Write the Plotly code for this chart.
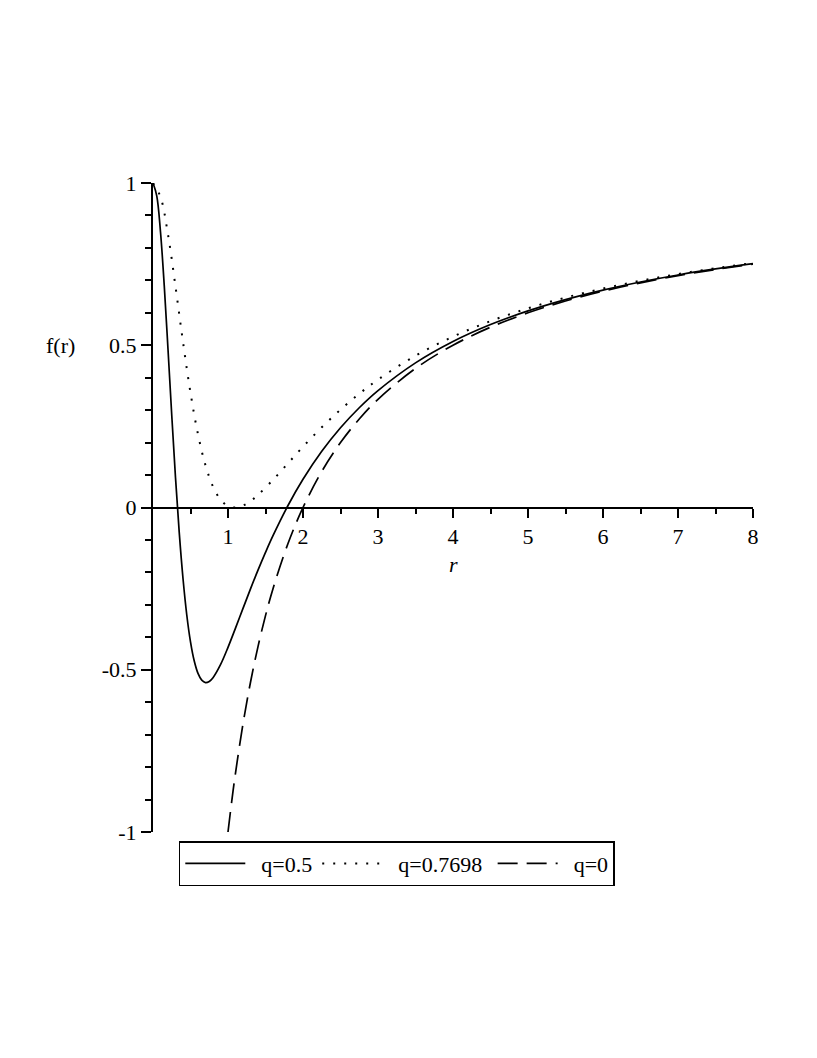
import plotly.graph_objects as go

# ---- data ----
r_q05 = [0, 0.05, 0.1, 0.15, 0.2, 0.25, 0.3, 0.35, 0.4, 0.45, 0.5, 0.55, 0.6, 0.65, 0.7,
         0.75, 0.8, 0.9, 1.0, 1.1, 1.2, 1.3, 1.4, 1.5, 1.6, 1.8, 2.0, 2.25, 2.5, 2.75,
         3.0, 3.5, 4.0, 4.5, 5.0, 5.5, 6.0, 6.5, 7.0, 7.5, 8.0]
f_q05 = [1.0, 0.9606, 0.8491, 0.6837, 0.4877, 0.2845, 0.0921, -0.0776, -0.2189, -0.3305,
         -0.4142, -0.4732, -0.5113, -0.5322, -0.5395, -0.5361, -0.5245, -0.4844, -0.4311,
         -0.3718, -0.3109, -0.2509, -0.1932, -0.1384, -0.0869, 0.0061, 0.0869, 0.1731,
         0.2457, 0.3074, 0.3602, 0.4456, 0.5115, 0.5637, 0.6059, 0.6408, 0.6701, 0.6950,
         0.7165, 0.7351, 0.7515]

r_q077 = [0, 0.1, 0.2, 0.3, 0.4, 0.5, 0.6, 0.7, 0.8, 0.9, 1.0, 1.1, 1.2, 1.3, 1.4, 1.6,
          1.8, 2.0, 2.25, 2.5, 2.75, 3.0, 3.5, 4.0, 4.5, 5.0, 5.5, 6.0, 6.5, 7.0, 7.5, 8.0]
f_q077 = [1.0, 0.9572, 0.8410, 0.6808, 0.5099, 0.3535, 0.2256, 0.1300, 0.0646, 0.0247,
          0.0049, 0.0001, 0.0062, 0.0199, 0.0388, 0.0853, 0.1363, 0.1872, 0.2471, 0.3016,
          0.3505, 0.3941, 0.4677, 0.5265, 0.5744, 0.6138, 0.6468, 0.6747, 0.6987, 0.7194,
          0.7375, 0.7534]

r_q0 = [1.0, 1.05, 1.1, 1.2, 1.3, 1.4, 1.5, 1.6, 1.8, 2.0, 2.25, 2.5, 2.75, 3.0, 3.5,
        4.0, 4.5, 5.0, 5.5, 6.0, 6.5, 7.0, 7.5, 8.0]
f_q0 = [-1.0, -0.9048, -0.8182, -0.6667, -0.5385, -0.4286, -0.3333, -0.25, -0.1111, 0.0,
        0.1111, 0.2, 0.2727, 0.3333, 0.4286, 0.5, 0.5556, 0.6, 0.6364, 0.6667, 0.6923,
        0.7143, 0.7333, 0.75]

names = ["q=0.5", "q=0.7698", "q=0"]
x_ticks = [1, 2, 3, 4, 5, 6, 7, 8]
x_ticktext = ["1", "2", "3", "4", "5", "6", "7", "8"]
y_ticks = [-1, -0.5, 0, 0.5, 1]
y_ticktext = ["-1", "-0.5", "0", "0.5", "1"]

FONT = "Liberation Serif, Times New Roman, serif"
FS = 22
NB = "\u00a0"

# legend spacing (non-breaking spaces only pad the legend entries)
leg_names = [NB * 2 + names[0], NB * 2 + names[1] + NB, NB * 2 + names[2]]

fig = go.Figure()
fig.add_trace(go.Scatter(x=r_q05, y=f_q05, mode="lines", name=leg_names[0],
                         line=dict(color="black", width=1.7, shape="spline")))
fig.add_trace(go.Scatter(x=r_q077, y=f_q077, mode="lines", name=leg_names[1],
                         line=dict(color="black", width=2, dash="2px,9px", shape="spline")))
fig.add_trace(go.Scatter(x=r_q0, y=f_q0, mode="lines", name=leg_names[2],
                         line=dict(color="black", width=1.7, dash="20px,9px", shape="spline")))

fig.update_layout(
    width=817, height=1058,
    margin=dict(l=145, r=72, t=175, b=234),
    paper_bgcolor="white", plot_bgcolor="white",
    font=dict(family=FONT, size=FS, color="black"),
    showlegend=True,
    legend=dict(orientation="h", x=0.043, y=-0.014, xanchor="left", yanchor="top",
                bordercolor="black", borderwidth=1.5, bgcolor="white",
                itemwidth=60,
                font=dict(family=FONT, size=FS, color="black")),
    xaxis=dict(range=[0, 8], anchor="free", position=0.5, showline=True,
               linecolor="black", linewidth=2, showgrid=False, zeroline=False,
               tickmode="array", tickvals=x_ticks, ticktext=x_ticktext,
               ticks="outside", ticklen=9, tickwidth=1.5, tickcolor="black",
               minor=dict(tickmode="linear", tick0=0.5, dtick=1, ticks="outside",
                          ticklen=5, tickwidth=1.5, tickcolor="black", showgrid=False),
               tickfont=dict(family=FONT, size=FS)),
    yaxis=dict(range=[-1, 1], showline=True, linecolor="black", linewidth=2,
               showgrid=False, zeroline=False,
               tickmode="array", tickvals=y_ticks, ticktext=y_ticktext,
               ticks="outside", ticklen=10, tickwidth=1.5, tickcolor="black",
               minor=dict(tickmode="linear", tick0=0, dtick=0.1, ticks="outside",
                          ticklen=6, tickwidth=1.5, tickcolor="black", showgrid=False),
               tickfont=dict(family=FONT, size=FS)),
    annotations=[
        dict(text="f(r)", x=(60 - 153) / 600, y=0.5, xref="paper", yref="y",
             xanchor="center", yanchor="middle", showarrow=False,
             font=dict(family=FONT, size=FS)),
        dict(text="<i>r</i>", x=4, y=-0.177, xref="x", yref="y",
             xanchor="center", yanchor="middle", showarrow=False,
             font=dict(family=FONT, size=FS)),
    ],
)

fig.write_html("out.html")
